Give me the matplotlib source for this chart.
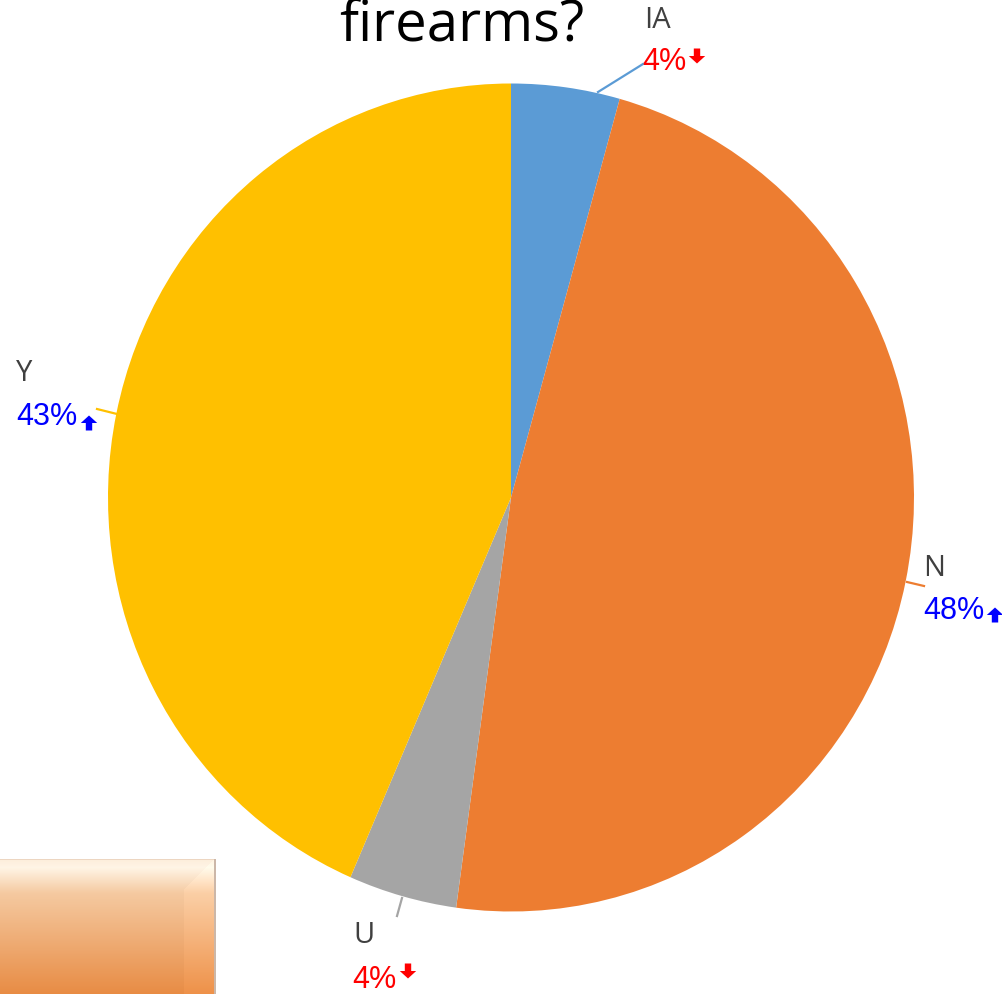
import numpy as np
import matplotlib
matplotlib.use("Agg")
import matplotlib.pyplot as plt
from matplotlib.patches import Polygon
from matplotlib.lines import Line2D

# ---- data ----
categories = ["IA", "N", "U", "Y"]
counts = [1, 11, 1, 10]
trend = ["down", "up", "down", "up"]
colors = ["#5B9BD5", "#ED7D31", "#A5A5A5", "#FFC000"]
title_tail = "firearms?"

W, H = 1002, 995
fig = plt.figure(figsize=(W / 100, H / 100), dpi=100)


def fx(x):
    return x / W


def fy(y):
    return 1 - y / H


# pie axes (slightly taller than wide, as in the reference)
cx, cy, rx, ry = 511, 498.5, 403, 414
ax = fig.add_axes([fx(cx - rx), fy(cy + ry), 2 * rx / W, 2 * ry / H])
ax.pie(counts, colors=colors, startangle=90, counterclock=False,
       wedgeprops=dict(linewidth=0))
ax.set_aspect("auto")
ax.set_xlim(-1, 1)
ax.set_ylim(-1, 1)
ax.axis("off")

total = sum(counts)
pcts = [f"{round(100 * c / total):d}%" for c in counts]

# label layout (pixel positions): name pos, pct pos, arrow pos, leader line
layout = {
    "IA": dict(name=(644, 20), pct=(642, 62), arrow=(697, 57),
               line=[(598, 93), (643, 65)]),
    "N": dict(name=(923, 568), pct=(923, 611), arrow=(995, 616),
              line=[(907, 583), (924, 587)]),
    "U": dict(name=(353, 936), pct=(352, 980), arrow=(408, 972),
              line=[(402, 899), (397, 917)]),
    "Y": dict(name=(16, 374), pct=(16, 417), arrow=(89, 424),
              line=[(117, 415), (97, 410)]),
}

for cat, pct, tr, col in zip(categories, pcts, trend, colors):
    L = layout[cat]
    fig.text(fx(L["name"][0]), fy(L["name"][1]), cat, fontsize=21,
             family="Open Sans", color="#404040", ha="left", va="center")
    tcol = "#0000FF" if tr == "up" else "#FF0000"
    fig.text(fx(L["pct"][0]), fy(L["pct"][1]), pct, fontsize=22,
             family="Liberation Sans", color=tcol, ha="left", va="center")
    # arrow glyph
    ax_, ay_ = L["arrow"]
    w, h, sw = 8.2, 7.5, 3.2
    if tr == "up":
        pts = [(ax_, ay_ - h), (ax_ + w, ay_), (ax_ + sw, ay_), (ax_ + sw, ay_ + h),
               (ax_ - sw, ay_ + h), (ax_ - sw, ay_), (ax_ - w, ay_)]
    else:
        pts = [(ax_, ay_ + h), (ax_ + w, ay_), (ax_ + sw, ay_), (ax_ + sw, ay_ - h),
               (ax_ - sw, ay_ - h), (ax_ - sw, ay_), (ax_ - w, ay_)]
    fig.patches.append(Polygon([(fx(a), fy(b)) for a, b in pts], closed=True,
                               transform=fig.transFigure, facecolor=tcol,
                               edgecolor="none"))
    (x0, y0), (x1, y1) = L["line"]
    fig.add_artist(Line2D([fx(x0), fx(x1)], [fy(y0), fy(y1)], color=col,
                          lw=1.6, transform=fig.transFigure))

# title (only last line visible)
fig.text(fx(462), fy(41), title_tail, fontsize=40.5, family="Open Sans",
         color="black", ha="center", va="baseline")

# orange bevel box at bottom-left
bx0, bx1, by0, by1 = 0, 216, 860, 995
bax = fig.add_axes([fx(bx0), fy(by1), (bx1 - bx0) / W, (by1 - by0) / H])
ny, nx = by1 - by0, bx1 - bx0
top = np.array([1.0, 0.96, 0.90])
mid = np.array([0.96, 0.79, 0.63])
bot = np.array([0.91, 0.55, 0.27])
img = np.zeros((ny, nx, 3))
for i in range(ny):
    tt = i / (ny - 1)
    if tt < 0.06:
        c = np.array([0.99, 0.93, 0.86]) + (top - np.array([0.99, 0.93, 0.86])) * (tt / 0.06)
    elif tt < 0.25:
        c = top + (mid - top) * ((tt - 0.06) / 0.19)
    else:
        c = mid + (bot - mid) * ((tt - 0.25) / 0.75)
    img[i, :, :] = c
# right bevel slightly lighter with diagonal corner
for i in range(ny):
    x_start = max(184, 214 - i) if i < 30 else 184
    img[i, x_start:nx - 2, :] = np.clip(img[i, x_start:nx - 2, :] * 1.01 + 0.015, 0, 1)
img[0, :nx - 2, :] = [0.93, 0.84, 0.76]
img[:, -2:, :] = [0.80, 0.72, 0.66]
bax.imshow(img, aspect="auto", extent=[0, 1, 0, 1], interpolation="bilinear")
bax.axis("off")

fig.savefig("out.png", dpi=100)
